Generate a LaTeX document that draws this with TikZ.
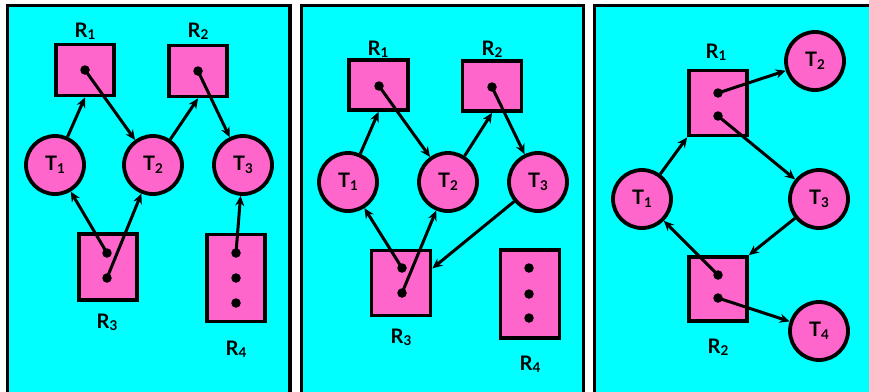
\documentclass[tikz,border=0pt]{standalone}
\usepackage{fontspec}
\setmainfont{Lato}
\usetikzlibrary{arrows.meta}
\definecolor{boxpink}{HTML}{FF66CC}
\definecolor{panelcyan}{HTML}{00FFFF}
\newcommand\lblfont{\fontsize{20}{22}\selectfont\bfseries}
\newcommand\tsub[2]{#1\raisebox{-0.25ex}{\fontsize{13.5}{14}\selectfont #2}}

\begin{document}
\begin{tikzpicture}[x=1pt,y=-1pt,
  panel/.style={draw=black,line width=3.2pt,fill=panelcyan},
  thread/.style={circle,draw,line width=3.8pt,fill=boxpink,minimum size=58pt,inner sep=0pt,font=\lblfont},
  res/.style={rectangle,draw,line width=3.8pt,fill=boxpink,minimum width=58pt,minimum height=51pt,inner sep=0pt},
  rdot/.style={circle,fill=black,inner sep=0pt,minimum size=9.5pt},
  lbl/.style={font=\lblfont,inner sep=0pt,anchor=base},
  req/.style={-{Stealth[length=10pt,width=9pt]},line width=3pt}]
\clip (0,0) rectangle (869,391);
\fill[white] (0,0) rectangle (869,391);
% panels
\draw[panel] (7.5,5.5) rectangle (290,400);
\draw[panel] (301.5,5.5) rectangle (583.5,400);
\draw[panel] (594.5,5.5) rectangle (880,400);

% left panel
\node[res] (aR1) at (85,70) {};
\node[res] (aR2) at (198,71) {};
\node[res,minimum height=66pt] (aR3) at (108,267) {};
\node[res,minimum height=87pt] (aR4) at (236,278) {};
\node[rdot] (aR1d) at (85,70) {};
\node[rdot] (aR2d) at (198,71) {};
\node[rdot] (aR3d1) at (107,253) {};
\node[rdot] (aR3d2) at (107,278) {};
\node[rdot] (aR4d1) at (236,253) {};
\node[rdot] (aR4d2) at (236,278) {};
\node[rdot] (aR4d3) at (236,303) {};
\node[lbl] (aR1l) at (85,37) {\tsub{R}{1}};
\node[lbl] (aR2l) at (198,37) {\tsub{R}{2}};
\node[lbl] (aR3l) at (107,328) {\tsub{R}{3}};
\node[lbl] (aR4l) at (236,355) {\tsub{R}{4}};
\node[thread] (aT1) at (55,165) {\tsub{T}{1}};
\node[thread] (aT2) at (153,165) {\tsub{T}{2}};
\node[thread] (aT3) at (243,165) {\tsub{T}{3}};
\draw[req] (aT1) -- (aR1.south);
\draw[req] (aR1d.center) -- (aT2);
\draw[req] (aT2) -- (aR2.south);
\draw[req] (aR2d.center) -- (aT3);
\draw[req] (aR3d1.center) -- (aT1);
\draw[req] (aR3d2.center) -- (aT2);
\draw[req] (aR4d1.center) -- (aT3);

% middle panel
\node[res,minimum width=59pt,minimum height=50pt] (bR1) at (378.5,85) {};
\node[res,minimum width=59pt,minimum height=50pt] (bR2) at (492,86) {};
\node[res,minimum width=59pt,minimum height=65pt] (bR3) at (401,283) {};
\node[res,minimum width=59pt,minimum height=88pt] (bR4) at (530,294) {};
\node[rdot] (bR1d) at (379,86) {};
\node[rdot] (bR2d) at (492,87) {};
\node[rdot] (bR3d1) at (402,268) {};
\node[rdot] (bR3d2) at (402,293) {};
\node[rdot] (bR4d1) at (529,268) {};
\node[rdot] (bR4d2) at (529,294) {};
\node[rdot] (bR4d3) at (529,318) {};
\node[lbl] (bR1l) at (378,55) {\tsub{R}{1}};
\node[lbl] (bR2l) at (492,55) {\tsub{R}{2}};
\node[lbl] (bR3l) at (401,343) {\tsub{R}{3}};
\node[lbl] (bR4l) at (530,370) {\tsub{R}{4}};
\node[thread] (bT1) at (348,182) {\tsub{T}{1}};
\node[thread] (bT2) at (448,182) {\tsub{T}{2}};
\node[thread] (bT3) at (538,182) {\tsub{T}{3}};
\draw[req] (bT1) -- (bR1.south);
\draw[req] (bR1d.center) -- (bT2);
\draw[req] (bT2) -- (bR2.south);
\draw[req] (bR2d.center) -- (bT3);
\draw[req] (bR3d1.center) -- (bT1);
\draw[req] (bR3d2.center) -- (bT2);
\draw[req] (bT3) -- (bR3.25);

% right panel
\node[res,minimum height=65pt] (cR1) at (718,103) {};
\node[res,minimum height=64pt] (cR2) at (718,289) {};
\node[rdot] (cR1d1) at (718,93) {};
\node[rdot] (cR1d2) at (718,116) {};
\node[rdot] (cR2d1) at (718,275) {};
\node[rdot] (cR2d2) at (718,298) {};
\node[lbl] (cR1l) at (716,58) {\tsub{R}{1}};
\node[lbl] (cR2l) at (718,353) {\tsub{R}{2}};
\node[thread] (cT1) at (642,199) {\tsub{T}{1}};
\node[thread] (cT2) at (815,61) {\tsub{T}{2}};
\node[thread] (cT3) at (819,199) {\tsub{T}{3}};
\node[thread] (cT4) at (819,331) {\tsub{T}{4}};
\draw[req] (cT1) -- (cR1.south west);
\draw[req] (cR1d1.center) -- (cT2);
\draw[req] (cR1d2.center) -- (cT3);
\draw[req] (cT3) -- (cR2.north east);
\draw[req] (cR2d1.center) -- (cT1);
\draw[req] (cR2d2.center) -- (cT4);
\end{tikzpicture}
\end{document}
